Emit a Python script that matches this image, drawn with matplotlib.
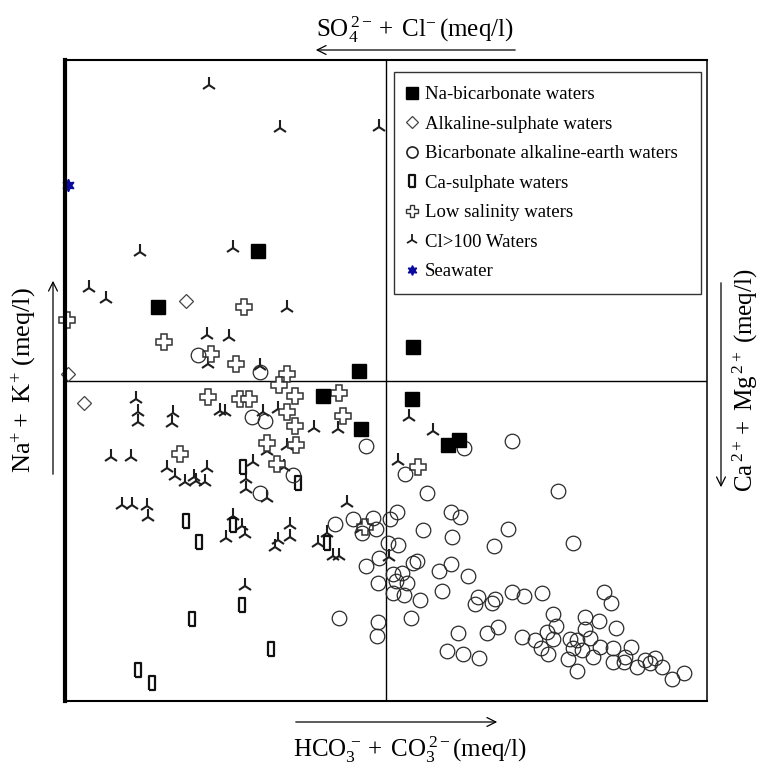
import matplotlib.pyplot as plt
from matplotlib.lines import Line2D

plt.rcParams['font.family'] = ['Liberation Serif', 'DejaVu Serif']
plt.rcParams['mathtext.fontset'] = 'custom'
plt.rcParams['mathtext.rm'] = 'Liberation Serif'
plt.rcParams['mathtext.it'] = 'Liberation Serif:italic'

# values in % of each axis (0-100), 50 = centre lines
# Na-bicarbonate waters
nab_x = [30.1, 14.5, 45.8, 54.2, 40.2, 54.0, 46.1, 59.7, 61.4]
nab_y = [70.2, 61.5, 51.5, 55.2, 47.6, 47.1, 42.4, 39.9, 40.7]

# Alkaline-sulphate waters
alk_x = [18.8, 0.5, 3.0]
alk_y = [62.4, 51.0, 46.5]

# Bicarbonate alkaline-earth waters
bic_x = [20.7, 30.4, 29.1, 31.2, 35.5, 30.4, 46.9, 42.1, 44.9, 48.0, 46.3, 48.4,
         42.7, 48.8, 48.8, 48.6, 46.9, 48.9, 62.1, 69.6, 53.0, 56.4, 76.8, 51.7,
         50.6, 60.1, 61.5, 55.8, 69.0, 60.3, 66.8, 79.1, 50.3, 51.9, 54.2, 54.8,
         60.1, 58.3, 62.8, 51.1, 52.5, 51.6, 53.3, 51.1, 52.8, 55.3, 58.7, 64.3,
         63.9, 66.5, 67.0, 69.6, 71.5, 74.3, 84.0, 85.0, 53.9, 61.2, 65.7, 67.4,
         59.5, 62.0, 64.5, 71.2, 73.2, 75.1, 76.0, 76.5, 76.0, 74.1, 75.2, 78.7,
         79.8, 81.8, 79.1, 80.5, 78.3, 79.8, 81.0, 83.2, 81.0, 85.8, 83.3, 82.2,
         85.4, 85.4, 87.1, 88.2, 87.2, 89.1, 90.3, 91.1, 91.9, 93.0, 94.5, 96.4]
bic_y = [54.0, 51.3, 44.3, 43.7, 35.3, 32.4, 39.8, 27.6, 28.4, 28.5, 26.2, 26.8,
         12.9, 18.4, 12.3, 10.1, 21.1, 22.3, 39.5, 40.6, 35.4, 32.4, 32.8, 29.5,
         28.4, 29.5, 28.7, 26.7, 26.8, 25.6, 24.2, 24.6, 24.6, 24.3, 21.5, 21.8,
         21.4, 20.3, 19.5, 19.8, 20.0, 18.7, 18.4, 16.8, 16.5, 15.8, 17.2, 16.2,
         15.1, 15.3, 15.9, 17.0, 16.4, 16.8, 17.0, 15.3, 12.9, 10.6, 10.6, 11.5,
         7.8, 7.3, 6.7, 10.0, 9.5, 10.8, 13.6, 11.7, 9.7, 8.3, 7.3, 9.7,
         9.5, 9.8, 8.3, 8.0, 6.6, 4.7, 13.1, 12.5, 11.2, 11.4, 8.4, 6.9,
         8.3, 6.1, 6.1, 8.4, 6.9, 5.3, 6.4, 5.9, 6.7, 5.3, 3.4, 4.4]

# Ca-sulphate waters
cas_x = [27.7, 36.3, 18.8, 26.2, 20.9, 40.8, 27.6, 19.8, 32.1, 11.4, 13.6]
cas_y = [36.5, 34.0, 28.1, 27.5, 24.8, 24.6, 15.0, 12.8, 8.1, 4.8, 2.8]

# Low salinity waters
low_x = [27.9, 15.4, 22.7, 26.6, 34.6, 0.3, 33.3, 22.3, 27.3, 28.7, 35.8, 42.7,
         34.6, 43.3, 35.8, 31.5, 36.0, 17.9, 33.0, 55.0, 46.7]
low_y = [61.5, 56.0, 54.1, 52.6, 51.0, 59.4, 49.3, 47.4, 47.1, 47.1, 47.6, 48.0,
         45.1, 44.5, 42.9, 40.2, 39.9, 38.5, 37.0, 36.5, 27.1]

# Cl>100 Waters
cl_x = [22.4, 33.5, 48.9, 11.7, 26.2, 3.7, 6.4, 34.6, 22.1, 25.5, 22.3, 30.4,
        11.1, 11.4, 11.4, 16.8, 16.7, 24.1, 24.9, 30.8, 33.2, 38.8, 42.5, 7.2,
        10.3, 15.9, 17.1, 18.7, 20.1, 20.4, 21.8, 22.1, 29.3, 28.2, 28.2, 31.5,
        31.5, 34.6, 34.1, 8.9, 10.4, 12.8, 12.9, 26.2, 27.6, 28.0, 25.1, 35.0,
        35.0, 33.2, 32.7, 39.4, 40.8, 41.7, 42.7, 43.9, 28.0, 53.6, 57.3, 51.9,
        46.1, 50.5]
cl_y = [96.1, 89.4, 89.5, 70.0, 70.7, 64.4, 62.7, 61.3, 57.1, 56.8, 52.6, 52.3,
        47.1, 45.1, 43.5, 44.9, 43.4, 45.2, 45.1, 45.1, 45.6, 42.6, 42.4, 38.1,
        38.1, 36.3, 35.1, 34.2, 34.9, 34.3, 34.2, 36.3, 37.3, 34.6, 33.1, 31.7,
        39.0, 39.8, 36.5, 30.6, 30.6, 30.4, 28.7, 28.9, 27.3, 26.1, 25.4, 27.5,
        25.6, 25.1, 24.0, 24.6, 26.2, 22.6, 22.6, 30.9, 17.9, 44.3, 42.1, 37.4,
        26.8, 22.5]

# Seawater
sea_x = [0.5]
sea_y = [80.5]

rect = [(-0.25, -0.5), (0.25, -0.5), (0.25, 0.5), (-0.25, 0.5), (-0.25, -0.5)]

fig = plt.figure(figsize=(7.67, 7.65), dpi=100)
ax = fig.add_axes([65/767, 64/765, 642/767, 641/765])
ax.set_xlim(0, 100)
ax.set_ylim(0, 100)
ax.set_xticks([])
ax.set_yticks([])
ax.spines['left'].set_linewidth(3)
for s in ['top', 'bottom']:
    ax.spines[s].set_linewidth(1.5)
ax.spines['right'].set_linewidth(1.1)
ax.axvline(50, color='black', lw=1)
ax.axhline(50, color='black', lw=1)

ax.plot(cl_x, cl_y, ls='none', marker='2', ms=11, mew=1.5, color='#1e1e1e', clip_on=False)
ax.plot(cas_x, cas_y, ls='none', marker=rect, ms=9.5, mew=1.6, mfc='white', mec='#111111', clip_on=False)
ax.plot(low_x, low_y, ls='none', marker='P', ms=11, mew=1.1, mfc='white', mec='#333333', clip_on=False)
ax.plot(bic_x, bic_y, ls='none', marker='o', ms=10.5, mew=0.9, mfc='none', mec='#2a2a2a', clip_on=False)
ax.plot(alk_x, alk_y, ls='none', marker='D', ms=7, mew=0.9, mfc='white', mec='#444444', clip_on=False)
ax.plot(nab_x, nab_y, ls='none', marker='s', ms=10.5, color='black', clip_on=False)
ax.plot(sea_x, sea_y, ls='none', marker=(6, 1, 0), ms=9, color='#0a0aa0', clip_on=False)

handles = [
    Line2D([], [], ls='none', marker='s', ms=8.5, color='black'),
    Line2D([], [], ls='none', marker='D', ms=6, mew=0.9, mfc='white', mec='#444444'),
    Line2D([], [], ls='none', marker='o', ms=8, mew=1.2, mfc='none', mec='#222222'),
    Line2D([], [], ls='none', marker=rect, ms=8, mew=1.6, mfc='white', mec='#111111'),
    Line2D([], [], ls='none', marker='P', ms=9, mew=1.0, mfc='white', mec='#333333'),
    Line2D([], [], ls='none', marker='2', ms=9, mew=1.3, color='#1e1e1e'),
    Line2D([], [], ls='none', marker=(6, 1, 0), ms=7, color='#0a0aa0'),
]
labels = ['Na-bicarbonate waters', 'Alkaline-sulphate waters',
          'Bicarbonate alkaline-earth waters', 'Ca-sulphate waters',
          'Low salinity waters', 'Cl>100 Waters', 'Seawater']
leg = ax.legend(handles, labels, loc='upper left',
                bbox_to_anchor=(0.5125, 0.6365, 0.4785, 0.3445), mode='expand',
                fontsize=13.5, frameon=True, fancybox=False, edgecolor='black',
                handlelength=0.4, handletextpad=0.5, labelspacing=0.66,
                borderpad=0.75, borderaxespad=0)
leg.get_frame().set_linewidth(1.0)

fs = 18
fig.text(415/767, 1 - 30/765, r'$\mathrm{SO_4^{\,2-}+\ Cl^{-}\,(meq/l)}$',
         ha='center', va='center', fontsize=fs)
fig.text(410/767, 1 - 750/765, r'$\mathrm{HCO_3^{\,-}+\ CO_3^{\,2-}(meq/l)}$',
         ha='center', va='center', fontsize=fs)
fig.text(24/767, 1 - 380/765, r'$\mathrm{Na^{+}+\ K^{+}\ (meq/l)}$',
         ha='center', va='center', rotation=90, fontsize=fs + 1)
fig.text(745/767, 1 - 380/765, r'$\mathrm{Ca^{\,2+}+\ Mg^{\,2+}\ (meq/l)}$',
         ha='center', va='center', rotation=90, fontsize=fs)

arr = dict(arrowstyle='->', lw=0.9, color='black', mutation_scale=16)
ax.annotate('', xy=(313/767, 1 - 50/765), xytext=(518/767, 1 - 50/765),
            xycoords='figure fraction', arrowprops=arr, annotation_clip=False)
ax.annotate('', xy=(500/767, 1 - 722/765), xytext=(293/767, 1 - 722/765),
            xycoords='figure fraction', arrowprops=arr, annotation_clip=False)
ax.annotate('', xy=(53/767, 1 - 278/765), xytext=(53/767, 1 - 477/765),
            xycoords='figure fraction', arrowprops=arr, annotation_clip=False)
ax.annotate('', xy=(721/767, 1 - 490/765), xytext=(721/767, 1 - 280/765),
            xycoords='figure fraction', arrowprops=arr, annotation_clip=False)

plt.savefig('out.png', dpi=100)
